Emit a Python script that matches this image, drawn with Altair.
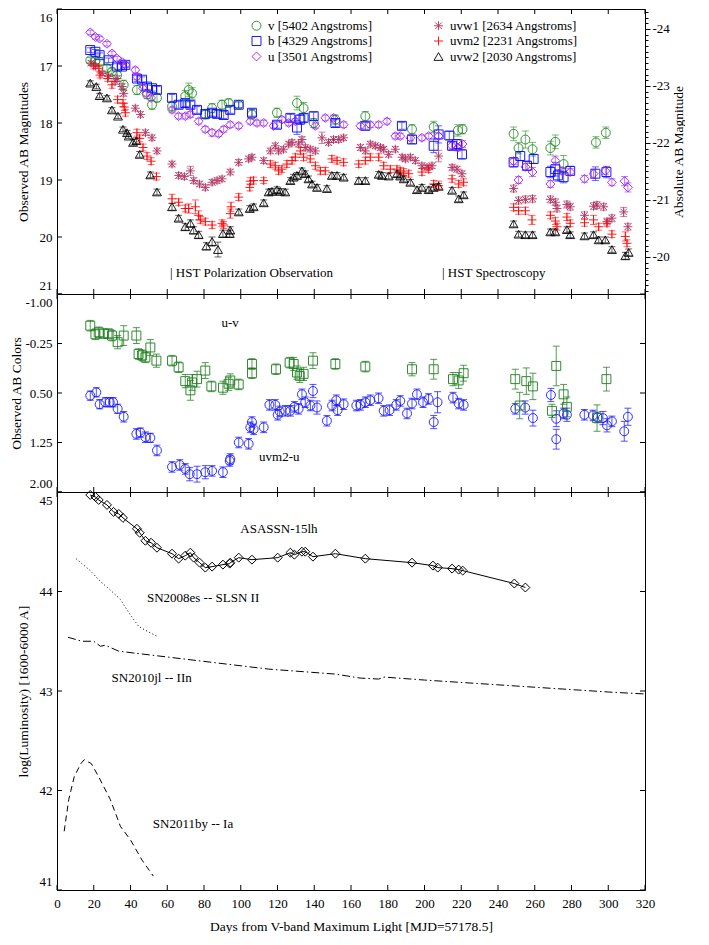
import altair as alt
import numpy as np
import pandas as pd

FONT = "Liberation Serif"
W = 588
H_TOP = 285
H_MID = 198
H_BOT = 398

# ---------------- tick / label values ----------------
x_ticks = list(range(0, 321, 20))
mag_ticks = [16, 17, 18, 19, 20, 21]
abs_ticks = [-24, -23, -22, -21, -20]
col_ticks = [-1.0, -0.25, 0.5, 1.25, 2.0]
lum_ticks = [41, 42, 43, 44, 45]
DIST_MOD = 40.35

T_TOP = "Observed AB Magnitudes"
T_MID = "Observed AB Colors"
T_BOT = "log(Luminosity) [1600-6000 A]"
T_X = "Days from V-band Maximum Light [MJD=57178.5]"

# ---------------- top panel: (day, mag, err) ----------------
v_data = [(18.1,16.90,.05),(20.9,16.91,.05),(23.2,16.93,.05),(27.2,17.04,.06),(29.9,17.10,.06),(32.7,17.16,.06),
          (36.3,17.33,.08),(43.5,17.42,.08),(49.0,17.50,.07),(51.7,17.68,.08),(54.4,17.56,.07),(62.6,17.71,.08),
          (69.8,17.53,.10),(71.7,17.42,.12),(73.5,17.48,.10),(80.7,17.85,.08),(84.4,17.74,.08),(89.8,17.68,.08),
          (93.4,17.65,.07),(98.9,17.68,.07),(106.1,17.85,.08),(119.7,17.82,.08),(130.6,17.65,.12),(134.2,17.74,.10),
          (139.7,18.00,.08),(151.5,17.94,.08),(167.8,17.88,.08),(193.2,18.11,.08),(205.0,18.07,.10),(218.2,18.13,.10),
          (220.7,18.11,.08),(248.5,18.19,.12),(251.2,18.44,.10),(254.9,18.29,.15),(258.8,18.46,.12),(268.5,18.44,.12),
          (271.2,18.33,.12),(275.7,18.72,.15),(293.3,18.34,.10),(298.7,18.17,.10)]
b_data = [(18.1,16.72,.04),(20.9,16.75,.04),(23.2,16.81,.04),(28.1,16.90,.04),(32.7,17.01,.05),(35.4,17.01,.05),
          (37.2,16.98,.05),(43.5,17.22,.05),(46.3,17.24,.05),(49.0,17.36,.05),(51.7,17.39,.05),(54.4,17.42,.06),
          (62.6,17.56,.06),(66.2,17.68,.06),(69.8,17.65,.06),(72.6,17.68,.06),(76.2,17.77,.06),(80.7,17.84,.07),
          (84.4,17.82,.06),(87.1,17.84,.06),(90.7,17.86,.06),(94.3,17.77,.06),(98.9,17.68,.05),(106.1,17.82,.06),
          (119.7,18.03,.06),(127.0,17.91,.06),(130.6,18.08,.12),(132.4,17.94,.08),(134.2,17.91,.07),(139.7,17.88,.07),
          (151.5,18.00,.06),(167.8,18.05,.06),(187.7,18.05,.06),(193.2,18.29,.07),(205.0,18.40,.12),(207.7,18.20,.15),
          (213.5,18.22,.07),(215.0,18.40,.07),(217.7,18.37,.08),(220.4,18.55,.08),(248.5,18.69,.08),(252.1,18.58,.08),
          (255.8,18.75,.08),(259.4,18.63,.08),(268.5,18.86,.10),(271.2,18.81,.12),(272.6,18.92,.10),(275.7,18.95,.10),
          (279.3,18.84,.08),(293.0,18.89,.12),(299.0,18.86,.10)]
u_data = [(18.1,16.41,.04),(20.9,16.49,.04),(23.2,16.52,.04),(27.2,16.61,.04),(29.9,16.78,.04),(32.7,16.87,.04),
          (35.4,16.93,.04),(37.2,16.98,.04),(42.6,17.07,.05),(43.5,17.19,.05),(46.8,17.39,.05),(48.6,17.48,.05),
          (51.2,17.56,.05),(62.6,17.77,.05),(66.2,17.88,.05),(69.8,17.88,.05),(72.6,17.85,.05),(77.1,17.97,.05),
          (80.7,18.11,.05),(84.4,18.17,.06),(88.0,18.19,.05),(90.7,18.11,.05),(94.3,18.03,.05),(98.9,18.05,.05),
          (105.2,17.97,.05),(108.8,18.00,.05),(112.5,18.00,.05),(117.9,18.05,.05),(122.4,17.94,.05),(126.1,18.00,.05),
          (129.7,17.97,.05),(140.6,18.05,.05),(146.0,17.91,.05),(150.5,17.91,.05),(156.0,18.03,.05),(165.1,18.05,.05),
          (170.5,18.03,.05),(175.0,18.03,.05),(179.6,17.97,.05),(184.1,18.23,.05),(186.8,18.23,.05),(192.3,18.26,.05),
          (198.6,18.26,.05),(202.3,18.23,.05),(207.7,18.23,.05),(214.9,18.40,.06),(218.2,18.43,.06),(220.7,18.37,.06),
          (248.5,18.67,.06),(251.2,19.00,.06),(254.9,18.77,.06),(258.8,18.86,.08),(268.5,19.07,.06),(271.2,18.66,.08),
          (274.9,18.84,.06),(279.3,18.86,.06),(287.1,18.98,.06),(292.0,18.89,.08),(298.4,18.84,.06),(302.0,19.04,.06),
          (308.9,19.02,.08),(310.7,19.13,.08)]
uvw1_data = [(18.5,16.95,.04),(21.0,17.00,.04),(24.5,17.13,.04),(28.0,17.18,.04),(31.6,17.27,.05),(32.7,17.22,.05),
             (35.4,17.36,.05),(36.3,17.48,.05),(42.6,17.74,.05),(45.4,17.85,.05),(48.1,18.17,.05),(51.7,18.26,.05),
             (54.4,18.49,.05),(62.6,18.72,.05),(66.2,18.92,.05),(69.3,18.94,.05),(72.6,18.84,.08),(74.4,19.01,.05),
             (77.6,19.07,.05),(80.7,19.13,.05),(84.4,19.04,.05),(87.1,19.01,.05),(89.8,18.98,.05),(94.3,18.86,.05),
             (98.9,18.69,.05),(104.3,18.63,.05),(106.1,18.60,.05),(112.5,18.66,.05),(116.1,18.49,.05),(118.8,18.40,.05),
             (120.6,18.49,.05),(123.3,18.46,.05),(126.1,18.37,.05),(127.9,18.34,.05),(131.5,18.37,.05),(133.3,18.29,.05),
             (135.1,18.43,.05),(137.8,18.46,.05),(140.6,18.49,.05),(144.2,18.26,.10),(147.8,18.34,.05),(150.5,18.29,.05),
             (153.3,18.29,.05),(156.0,18.26,.05),(165.1,18.43,.05),(167.8,18.49,.05),(170.5,18.37,.05),(173.2,18.40,.05),
             (176.0,18.43,.05),(177.8,18.46,.05),(180.5,18.55,.05),(184.1,18.46,.05),(187.8,18.60,.05),(189.6,18.63,.05),
             (192.3,18.60,.05),(195.0,18.66,.05),(198.6,18.75,.05),(201.4,18.78,.05),(204.1,18.75,.05),(207.7,18.58,.10),
             (215.0,18.78,.05),(217.7,18.81,.05),(220.4,18.89,.05),(248.5,19.15,.06),(251.2,19.36,.06),(254.9,19.34,.06),
             (258.8,19.33,.06),(268.5,19.34,.06),(271.2,19.39,.06),(272.1,19.50,.06),(277.5,19.43,.06),(279.3,19.47,.06),
             (287.1,19.62,.06),(292.0,19.46,.06),(293.9,19.44,.06),(297.5,19.47,.06),(299.3,19.73,.06),(302.0,19.67,.06),
             (308.4,19.56,.08),(310.7,19.82,.06)]
uvm2_data = [(20.0,17.00,.05),(22.8,17.04,.05),(23.4,17.16,.05),(27.6,17.22,.05),(29.9,17.33,.06),(33.0,17.59,.06),
             (35.9,17.65,.06),(36.6,17.72,.06),(37.2,17.82,.06),(43.5,18.17,.06),(45.0,18.27,.06),(46.8,18.43,.06),
             (49.0,18.58,.06),(51.2,18.67,.06),(54.1,18.94,.06),(62.6,19.33,.08),(66.2,19.39,.06),(69.8,19.50,.06),
             (71.7,19.50,.08),(75.3,19.47,.12),(77.1,19.62,.08),(78.0,19.70,.06),(80.7,19.73,.06),(84.4,19.79,.06),
             (89.8,19.76,.06),(90.7,19.79,.06),(94.3,19.59,.08),(94.7,19.47,.08),(98.9,19.30,.06),(104.9,19.13,.06),
             (105.2,19.02,.06),(107.0,19.01,.06),(112.5,19.01,.05),(116.1,18.72,.06),(118.8,18.75,.06),(120.6,18.84,.06),
             (122.4,18.81,.06),(125.1,18.72,.06),(127.9,18.66,.06),(129.7,18.60,.06),(132.4,18.49,.06),(134.2,18.60,.06),
             (137.8,18.63,.06),(140.6,18.75,.06),(143.3,18.84,.06),(146.0,18.84,.06),(149.6,18.63,.06),(152.4,18.66,.06),
             (156.0,18.69,.06),(164.2,18.72,.06),(167.8,18.66,.06),(170.5,18.60,.06),(175.1,18.60,.06),(177.8,18.75,.06),
             (181.4,18.81,.06),(185.0,18.81,.06),(186.8,18.84,.06),(188.7,18.86,.06),(191.4,18.89,.06),(198.6,18.86,.06),
             (202.3,18.81,.06),(205.0,19.07,.06),(207.7,19.10,.08),(215.0,18.98,.06),(218.6,19.07,.06),(221.3,19.04,.06),
             (248.5,19.48,.06),(251.2,19.54,.06),(254.9,19.54,.06),(258.5,19.70,.08),(268.5,19.62,.06),(271.2,19.72,.06),
             (272.1,19.82,.06),(277.5,19.65,.06),(279.3,19.76,.06),(287.1,19.75,.06),(292.0,19.70,.08),(294.8,19.82,.06),
             (299.3,19.76,.06),(302.0,19.95,.06),(309.3,19.99,.08),(310.2,20.11,.06)]
uvw2_data = [(18.1,17.30,.04),(21.4,17.36,.04),(23.2,17.52,.04),(27.2,17.56,.04),(29.9,17.77,.04),(33.2,17.88,.04),
             (35.9,18.11,.04),(38.1,18.17,.04),(39.0,18.23,.04),(41.4,18.34,.05),(43.2,18.31,.05),(45.0,18.55,.05),
             (50.8,18.91,.05),(54.4,19.21,.05),(62.6,19.47,.06),(66.2,19.67,.05),(69.8,19.82,.06),(72.6,19.76,.06),
             (74.4,19.88,.06),(77.1,19.96,.06),(81.3,20.16,.06),(84.4,20.08,.08),(87.6,20.22,.13),(90.3,19.94,.06),
             (94.0,19.94,.06),(94.3,19.88,.06),(98.9,19.56,.05),(104.9,19.50,.05),(107.0,19.47,.05),(112.5,19.40,.05),
             (115.2,19.21,.05),(117.0,19.20,.05),(119.7,19.17,.05),(121.5,19.20,.05),(124.2,19.21,.05),(127.0,19.01,.05),
             (128.8,18.95,.05),(130.6,18.92,.05),(133.3,18.84,.05),(135.1,18.89,.05),(136.9,18.98,.05),(138.8,19.07,.05),
             (141.5,19.13,.05),(146.9,19.15,.05),(149.6,18.92,.05),(152.4,18.92,.05),(156.0,18.95,.05),(164.2,19.01,.05),
             (167.8,19.01,.05),(175.1,18.90,.05),(176.9,18.92,.05),(180.5,18.93,.05),(185.0,18.89,.05),(186.8,18.93,.05),
             (188.7,18.98,.05),(192.3,19.04,.05),(195.9,19.17,.05),(198.6,19.13,.05),(202.3,19.17,.05),(205.0,19.13,.05),
             (207.7,19.11,.05),(215.0,19.18,.05),(218.6,19.33,.05),(221.3,19.26,.05),(248.5,19.77,.05),(251.2,19.95,.05),
             (254.9,19.96,.05),(258.8,19.96,.05),(268.5,19.91,.05),(271.2,19.91,.05),(277.5,19.87,.05),(279.3,19.96,.05),
             (287.1,19.98,.05),(292.0,19.96,.05),(294.8,20.05,.05),(298.4,20.05,.05),(302.0,20.22,.05),(309.3,20.33,.06),
             (311.1,20.27,.06)]

# ---------------- middle panel: (day, colour, err) ----------------
uv_data = [(18.1,-0.52,.08),(20.9,-0.39,.08),(22.7,-0.42,.08),(25.4,-0.40,.07),(28.1,-0.40,.07),(29.9,-0.37,.08),
           (33.0,-0.27,.10),(36.3,-0.37,.15),(43.2,-0.37,.12),(44.4,-0.09,.08),(46.3,-0.07,.08),(48.1,-0.04,.08),
           (50.8,-0.19,.12),(54.1,0.01,.10),(62.6,0.01,.08),(66.2,0.11,.08),(69.8,0.32,.10),(72.6,0.46,.15),
           (73.5,0.34,.12),(76.2,0.29,.12),(80.7,0.16,.12),(84.0,0.40,.08),(90.3,0.42,.10),(93.4,0.36,.10),
           (94.3,0.31,.10),(98.9,0.37,.08),(106.1,0.06,.08),(106.1,0.20,.08),(119.2,0.14,.08),(126.6,0.04,.08),
           (128.8,0.06,.10),(130.6,0.19,.10),(132.1,0.24,.10),(134.2,0.21,.10),(139.3,0.01,.12),(151.5,0.06,.08),
           (167.8,0.10,.08),(193.2,0.14,.10),(205.0,0.14,.15),(215.5,0.29,.10),(218.6,0.31,.12),(221.3,0.20,.12),
           (249.4,0.29,.15),(251.8,0.69,.20),(255.4,0.32,.20),(259.0,0.40,.20),(269.4,0.77,.10),(271.7,0.09,.30),
           (275.7,0.52,.15),(277.5,0.71,.15),(293.9,0.88,.20),(299.0,0.29,.18)]
uvm2u_data = [(18.1,0.54,.07),(21.4,0.49,.07),(23.2,0.67,.07),(26.3,0.64,.07),(28.7,0.64,.07),(30.5,0.64,.07),
              (33.0,0.74,.07),(36.3,0.86,.08),(43.2,1.12,.08),(45.4,1.10,.07),(48.1,1.17,.08),(50.8,1.18,.07),
              (54.4,1.37,.08),(62.6,1.62,.08),(66.8,1.59,.08),(69.8,1.65,.08),(72.2,1.73,.10),(76.2,1.73,.12),
              (80.7,1.70,.10),(84.4,1.68,.08),(90.3,1.70,.08),(94.0,1.53,.08),(94.3,1.50,.08),(98.9,1.25,.08),
              (104.3,1.27,.08),(105.2,1.02,.08),(106.1,0.94,.08),(107.0,1.05,.08),(112.5,1.02,.08),(115.6,0.68,.08),
              (118.8,0.68,.08),(120.1,0.83,.08),(121.2,0.78,.08),(124.3,0.77,.08),(127.0,0.77,.08),(129.2,0.71,.08),
              (131.5,0.74,.08),(133.3,0.52,.08),(135.1,0.64,.08),(137.9,0.69,.08),(139.3,0.47,.10),(141.5,0.72,.10),
              (146.9,0.92,.08),(149.7,0.69,.08),(152.0,0.61,.08),(152.7,0.76,.08),(156.0,0.67,.08),(162.9,0.69,.08),
              (165.1,0.68,.08),(167.8,0.64,.08),(170.5,0.61,.08),(175.0,0.58,.08),(177.8,0.77,.08),(181.0,0.76,.08),
              (184.6,0.68,.08),(186.8,0.62,.08),(190.5,0.81,.08),(193.2,0.66,.08),(195.9,0.52,.08),(199.2,0.64,.08),
              (202.2,0.59,.08),(205.0,0.94,.10),(207.1,0.64,.16),(215.5,0.57,.08),(218.6,0.66,.08),(221.3,0.68,.08),
              (249.4,0.74,.08),(254.8,0.72,.10),(259.0,0.88,.12),(268.8,0.53,.10),(271.7,0.89,.12),(271.7,1.20,.15),
              (275.7,0.81,.08),(277.5,0.83,.10),(287.0,0.83,.08),(291.7,0.84,.08),(294.2,0.87,.08),(297.1,0.88,.10),
              (299.3,0.99,.10),(302.0,0.93,.08),(308.7,1.08,.15),(310.7,0.86,.13)]

# ---------------- bottom panel: (day, log L) ----------------
asassn_data = [(18.1,44.97),(20.9,44.95),(22.7,44.92),(27.2,44.87),(30.8,44.80),(33.6,44.78),(35.9,44.74),
               (43.5,44.63),(45.0,44.59),(48.1,44.51),(51.2,44.49),(54.4,44.44),(62.6,44.38),(66.2,44.33),
               (69.8,44.36),(72.6,44.39),(74.4,44.34),(77.6,44.29),(80.7,44.24),(84.4,44.25),(90.3,44.27),
               (94.0,44.28),(94.3,44.29),(98.9,44.34),(106.1,44.32),(120.1,44.34),(127.0,44.39),(129.2,44.37),
               (133.3,44.40),(135.1,44.40),(139.3,44.35),(151.5,44.38),(167.8,44.33),(193.2,44.29),(204.6,44.26),
               (207.2,44.24),(215.0,44.23),(218.6,44.22),(220.8,44.21),(248.9,44.08),(254.9,44.04)]
sn2008es_data = [(10.4,44.33),(18.1,44.21),(23.6,44.10),(28.1,44.03),(34.5,43.92),(39.0,43.79),(44.4,43.65),
                 (48.1,43.61),(54.4,43.55)]
sn2010jl_data = [(6.0,43.54),(13.6,43.50),(20.0,43.50),(23.6,43.45),(26.3,43.46),(33.6,43.40),(51.7,43.36),
                 (78.9,43.30),(115.2,43.22),(151.5,43.17),(165.0,43.13),(175.0,43.12),(178.0,43.14),(200.0,43.11),
                 (250.0,43.05),(300.0,42.99),(320.0,42.97)]
sn2011by_data = [(3.9,41.59),(6.4,41.91),(9.4,42.14),(13.0,42.27),(14.8,42.31),(18.7,42.27),(22.9,42.13),
                 (29.0,41.91),(34.5,41.64),(40.1,41.50),(46.3,41.30),(52.4,41.14)]

# ---------------- labels ----------------
band_order = ["v [5402 Angstroms]", "b [4329 Angstroms]", "u [3501 Angstroms]",
              "uvw1 [2634 Angstroms]", "uvm2 [2231 Angstroms]", "uvw2 [2030 Angstroms]"]
band_colors = ["#228B22", "#0000FF", "#A020F0", "#B03060", "#FF0000", "#000000"]
ASTERISK = "M-1,0L1,0M0,-1L0,1M-0.72,-0.72L0.72,0.72M-0.72,0.72L0.72,-0.72"
PLUS = "M-1,0L1,0M0,-1L0,1"
band_shapes = ["circle", "square", "diamond", ASTERISK, PLUS, "triangle-up"]
band_series = [v_data, b_data, u_data, uvw1_data, uvm2_data, uvw2_data]
top_notes = ["|  HST Polarization Observation", "|  HST Spectroscopy"]
top_note_days = [61.5, 209.5]
top_note_mags = [20.64, 20.64]

# ---------------- build tables ----------------
rows = []
for band, series in zip(band_order, band_series):
    for d, m, e in series:
        rows.append({"band": band, "day": d, "mag": m, "lo": m - e, "hi": m + e})
top_df = pd.DataFrame(rows)

def ebar_df(data):
    return pd.DataFrame([{"day": d, "val": c, "lo": c - e, "hi": c + e} for d, c, e in data])

uv_df = ebar_df(uv_data)
uvm2u_df = ebar_df(uvm2u_data)

def line_df(data):
    return pd.DataFrame(data, columns=["day", "lum"])

xs = alt.Scale(domain=[0, 320], nice=False, zero=False)
ys_top = alt.Scale(domain=[16, 21], reverse=True, nice=False, zero=False)
ys_abs = alt.Scale(domain=[16 - DIST_MOD, 21 - DIST_MOD], reverse=True, nice=False, zero=False)
ys_mid = alt.Scale(domain=[-1, 2], reverse=True, nice=False, zero=False)
ys_bot = alt.Scale(domain=[41, 45], nice=False, zero=False)

NX = dict(scale=xs, axis=None)

def frame_ticks(H, yscale, yvals, right_side=True):
    tx = pd.DataFrame({"t": x_ticks})
    ty = pd.DataFrame({"t": yvals})
    layers = [
        alt.Chart(tx).mark_rule(color="black", strokeWidth=1).encode(
            x=alt.X("t:Q", **NX), y=alt.value(0), y2=alt.value(5)),
        alt.Chart(tx).mark_rule(color="black", strokeWidth=1).encode(
            x=alt.X("t:Q", **NX), y=alt.value(H), y2=alt.value(H - 5)),
        alt.Chart(ty).mark_rule(color="black", strokeWidth=1).encode(
            y=alt.Y("t:Q", scale=yscale, axis=None), x=alt.value(0), x2=alt.value(5)),
    ]
    if right_side:
        layers.append(alt.Chart(ty).mark_rule(color="black", strokeWidth=1).encode(
            y=alt.Y("t:Q", scale=yscale, axis=None), x=alt.value(W), x2=alt.value(W - 5)))
    return layers

def left_axis(values, title, title_x, label_expr=None, fmt=None):
    kw = dict(orient="left", values=values, title=title, titleX=title_x, titleAngle=270,
              titleBaseline="bottom", titleAlign="center", ticks=False, domain=False, labelFlush=True,
              labelFlushOffset=-2, labelPadding=5, grid=False)
    if label_expr:
        kw["labelExpr"] = label_expr
    if fmt:
        kw["format"] = fmt
    return alt.Axis(**kw)

# ---------------- top panel ----------------
legend = alt.Legend(title=None, orient="none", legendX=193, legendY=10, columns=2, columnPadding=59,
                    rowPadding=1.5, padding=0, labelFont=FONT, labelFontSize=13, labelOffset=5,
                    symbolSize=80, symbolStrokeWidth=1, labelColor="black", symbolFillColor="white")
cscale = alt.Scale(domain=band_order, range=band_colors)
sscale = alt.Scale(domain=band_order, range=band_shapes)

top_pts = alt.Chart(top_df).mark_point(filled=False, size=80, strokeWidth=1, opacity=0.9).encode(
    x=alt.X("day:Q", **NX),
    y=alt.Y("mag:Q", scale=ys_top, axis=left_axis(mag_ticks, T_TOP, -27, fmt="d")),
    color=alt.Color("band:N", scale=cscale, legend=legend),
    shape=alt.Shape("band:N", scale=sscale, legend=legend),
)
top_errs = []
for band, col in zip(band_order, band_colors):
    top_errs.append(alt.Chart(top_df).transform_filter(alt.datum.band == band).mark_errorbar(
        ticks={"size": 7}, opacity=0.6, thickness=1, color=col).encode(
        x=alt.X("day:Q", **NX),
        y=alt.Y("lo:Q", scale=ys_top, axis=None),
        y2="hi:Q"))
top_text = alt.Chart(pd.DataFrame({"day": top_note_days, "mag": top_note_mags, "txt": top_notes})).mark_text(
    align="left", baseline="middle", font=FONT, fontSize=13, color="black").encode(
    x=alt.X("day:Q", **NX), y=alt.Y("mag:Q", scale=ys_top, axis=None), text="txt:N")

abs_minor = [round(a, 1) for a in np.arange(-24.3, -19.35, 0.1)]
is_int = "abs(datum.value - round(datum.value)) < 0.01"
right_layer = alt.Chart(pd.DataFrame({"a": abs_ticks})).mark_point(opacity=0).encode(
    x=alt.value(0),
    y=alt.Y("a:Q", scale=ys_abs, axis=alt.Axis(
        orient="right", values=abs_minor, title="Absolute AB Magnitude", titleAngle=270,
        titleBaseline="bottom", titleAlign="center", titleX=40, domain=False, grid=False,
        tickColor="black", tickWidth=1,
        tickSize={"condition": {"test": is_int, "value": 5}, "value": 3},
        labelPadding=2, labelExpr=is_int + " ? ('' + round(datum.value)) : ''")),
)

top_main = alt.layer(top_pts, *top_errs, top_text,
                     *frame_ticks(H_TOP, ys_top, mag_ticks, right_side=False)).resolve_axis(y="independent")
top = alt.layer(top_main, right_layer).resolve_scale(y="independent").properties(width=W, height=H_TOP)

# ---------------- middle panel ----------------
col_label = "(datum.value < 0 ? '-' : '') + format(abs(datum.value), '.2f')"
BLUE_C = "#1A1AFF"
GREEN_C = "#1E7D1E"

def mid_pts(df, color, shape, axis=None):
    return alt.Chart(df).mark_point(filled=False, size=80, strokeWidth=1, color=color, shape=shape,
                                    opacity=0.9).encode(
        x=alt.X("day:Q", **NX), y=alt.Y("val:Q", scale=ys_mid, axis=axis))

def mid_err(df, color):
    return alt.Chart(df).mark_errorbar(ticks={"size": 7}, opacity=0.75, thickness=1, color=color).encode(
        x=alt.X("day:Q", **NX),
        y=alt.Y("lo:Q", scale=ys_mid, axis=None), y2="hi:Q")

mid_notes = pd.DataFrame({"day": [94.2, 121.0], "val": [-0.56, 1.47], "txt": ["u-v", "uvm2-u"]})
mid_text = alt.Chart(mid_notes).mark_text(font=FONT, fontSize=13, color="black", baseline="middle").encode(
    x=alt.X("day:Q", **NX), y=alt.Y("val:Q", scale=ys_mid, axis=None), text="txt:N")

mid = alt.layer(mid_pts(uvm2u_df, BLUE_C, "circle", left_axis(col_ticks, T_MID, -34, col_label)),
                mid_err(uvm2u_df, BLUE_C),
                mid_err(uv_df, GREEN_C),
                mid_pts(uv_df, GREEN_C, "square"),
                mid_text,
                *frame_ticks(H_MID, ys_mid, col_ticks)).resolve_axis(y="independent").properties(
    width=W, height=H_MID)

# ---------------- bottom panel ----------------
x_axis = alt.Axis(orient="bottom", values=x_ticks, format="d", title=T_X,
                  ticks=False, domain=False, labelFlush=False, labelOverlap=False, labelPadding=7.5,
                  titleY=36, titleBaseline="middle", grid=False)

as_df = line_df(asassn_data)
as_pts = alt.Chart(as_df).mark_point(shape="diamond", filled=False, size=80, color="black",
                                     strokeWidth=1, opacity=1).encode(
    x=alt.X("day:Q", scale=xs, axis=x_axis),
    y=alt.Y("lum:Q", scale=ys_bot, axis=left_axis(lum_ticks, T_BOT, -27, fmt="d")))
as_line = alt.Chart(as_df).mark_line(color="black", strokeWidth=1).encode(
    x=alt.X("day:Q", **NX), y=alt.Y("lum:Q", scale=ys_bot, axis=None))

def sn_line(data, dash):
    return alt.Chart(line_df(data)).mark_line(color="black", strokeWidth=1, strokeDash=dash).encode(
        x=alt.X("day:Q", **NX), y=alt.Y("lum:Q", scale=ys_bot, axis=None))

bot_notes = pd.DataFrame({"day": [120.8, 79.5, 51.5, 74.0], "lum": [44.63, 43.93, 43.13, 41.66],
                          "txt": ["ASASSN-15lh", "SN2008es -- SLSN II", "SN2010jl -- IIn", "SN2011by -- Ia"]})
bot_text = alt.Chart(bot_notes).mark_text(font=FONT, fontSize=13, color="black", baseline="middle").encode(
    x=alt.X("day:Q", **NX), y=alt.Y("lum:Q", scale=ys_bot, axis=None), text="txt:N")

bot = alt.layer(as_pts, as_line,
                sn_line(sn2008es_data, [1, 2.5]),
                sn_line(sn2010jl_data, [8, 3, 1.5, 3]),
                sn_line(sn2011by_data, [6, 4]),
                bot_text,
                *frame_ticks(H_BOT, ys_bot, lum_ticks)).resolve_axis(x="independent", y="independent").properties(
    width=W, height=H_BOT)

chart = alt.vconcat(top, mid, bot, spacing=0, bounds="flush").resolve_scale(
    color="independent", shape="independent").properties(padding=0).configure_view(
    stroke="black", strokeWidth=1).configure_axis(
    labelFont=FONT, titleFont=FONT, labelFontSize=13, titleFontSize=13.5, titleFontWeight="normal",
    labelColor="black", titleColor="black")

chart.save("out.html", embed_options={"renderer": "svg", "actions": False})
